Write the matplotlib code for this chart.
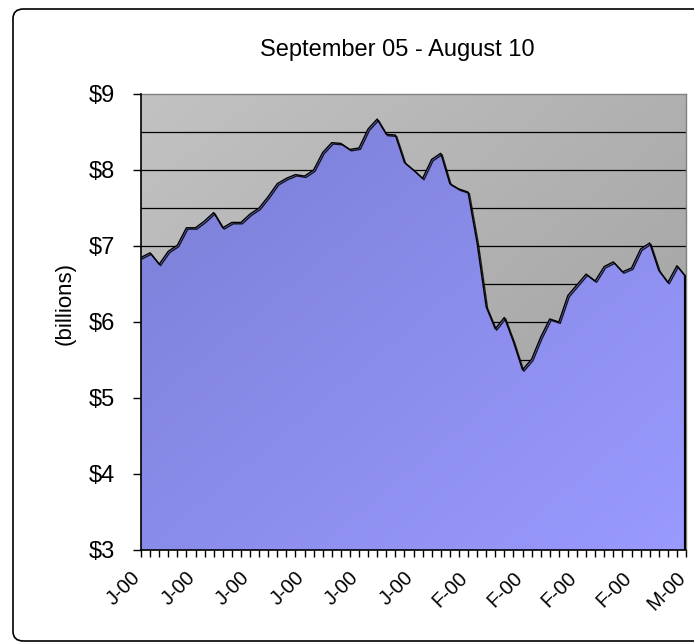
import numpy as np
import matplotlib
matplotlib.use('Agg')
import matplotlib.pyplot as plt
import matplotlib.patheffects as pe
import matplotlib.transforms as mtransforms
from matplotlib.patches import FancyBboxPatch

plt.rcParams['font.family'] = ['Liberation Sans', 'DejaVu Sans']

title = 'September 05 - August 10'
ylabel = '(billions)'
# monthly values, in billions of dollars
values = [6.85, 6.91, 6.76, 6.93, 7.01, 7.24, 7.24, 7.33, 7.44, 7.24,
          7.31, 7.31, 7.42, 7.50, 7.65, 7.82, 7.89, 7.94, 7.92, 8.00,
          8.23, 8.36, 8.35, 8.27, 8.29, 8.54, 8.67, 8.47, 8.46, 8.10,
          8.00, 7.89, 8.14, 8.22, 7.82, 7.75, 7.71, 7.04, 6.20, 5.91,
          6.06, 5.74, 5.37, 5.51, 5.80, 6.04, 6.00, 6.35, 6.49, 6.63,
          6.54, 6.73, 6.79, 6.66, 6.71, 6.96, 7.04, 6.68, 6.52, 6.74,
          6.59]
xlabels = ['J-00', 'J-00', 'J-00', 'J-00', 'J-00', 'J-00',
           'F-00', 'F-00', 'F-00', 'F-00', 'M-00']
yticks = [3, 4, 5, 6, 7, 8, 9]

x = np.arange(len(values))
vals = np.array(values)
ymin, ymax = 3, 9

fig = plt.figure(figsize=(6.94, 6.42), dpi=100)
fig.patches.append(FancyBboxPatch((13 / 694, 1 - 641 / 642), 1.0, 632 / 642,
                                  boxstyle='round,pad=0,rounding_size=0.015',
                                  transform=fig.transFigure, facecolor='none',
                                  edgecolor='black', linewidth=1.2))

ax = fig.add_axes([141 / 694, 1 - 550 / 642, 545 / 694, 456 / 642])
ax.set_xlim(0, len(values) - 1)
ax.set_ylim(ymin, ymax)

# plot area gradient (light gray top-left to darker bottom-right)
gx, gy = np.meshgrid(np.linspace(0, 1, 200), np.linspace(0, 1, 200))
g = (gx + gy) / 2
bg = np.zeros((200, 200, 3))
c0 = np.array([194, 194, 194]) / 255
c1 = np.array([158, 158, 158]) / 255
for k in range(3):
    bg[..., k] = c0[k] + (c1[k] - c0[k]) * g
ax.imshow(bg, extent=[0, len(values) - 1, ymin, ymax], aspect='auto',
          origin='upper', zorder=0)

for yv in np.arange(3.5, 9.0, 0.5):
    ax.axhline(yv, color='black', linewidth=0.9, zorder=1)

# area with gradient fill
poly = ax.fill_between(x, vals, ymin, facecolor='none', edgecolor='none')
a0 = np.array([122, 126, 212]) / 255
a1 = np.array([154, 154, 255]) / 255
area = np.zeros((200, 200, 3))
for k in range(3):
    area[..., k] = a0[k] + (a1[k] - a0[k]) * g
im = ax.imshow(area, extent=[0, len(values) - 1, ymin, ymax], aspect='auto',
               origin='upper', zorder=2)
im.set_clip_path(poly.get_paths()[0], transform=ax.transData)

ax.plot(x, vals, color='black', linewidth=1.0, zorder=3,
        path_effects=[pe.SimpleLineShadow(offset=(1.0, -1.0), shadow_color='black', alpha=0.85),
                      pe.Normal()])
ax.plot([x[-1], x[-1]], [vals[-1], ymin], color='black', linewidth=3, zorder=3)

ax.set_yticks(yticks)
ax.set_yticklabels(['$' + str(v) for v in yticks], fontsize=17)
ax.set_xticks(x[::6])
ax.set_xticklabels(xlabels, rotation=45, ha='right', va='top',
                   rotation_mode='anchor', fontsize=14.5)
ax.set_xticks(x, minor=True)
ax.tick_params(axis='x', which='both', direction='out', length=5, width=1, pad=8)
ax.tick_params(axis='y', which='major', direction='out', length=6, width=1, pad=13)

shift = mtransforms.ScaledTranslation(-0.1, 0, fig.dpi_scale_trans)
for lab in ax.get_xticklabels():
    lab.set_transform(lab.get_transform() + shift)

for s in ['top', 'right']:
    ax.spines[s].set_color('#808080')
    ax.spines[s].set_linewidth(1)
for s in ['left', 'bottom']:
    ax.spines[s].set_color('black')
    ax.spines[s].set_linewidth(1.2)
    ax.spines[s].set_zorder(4)

ax.set_ylabel(ylabel, fontsize=16)
ax.yaxis.set_label_coords(-0.12, 0.54)
fig.text(397 / 694, 1 - 50 / 642, title, ha='center', va='center', fontsize=17)

fig.savefig('out.png', dpi=100)
